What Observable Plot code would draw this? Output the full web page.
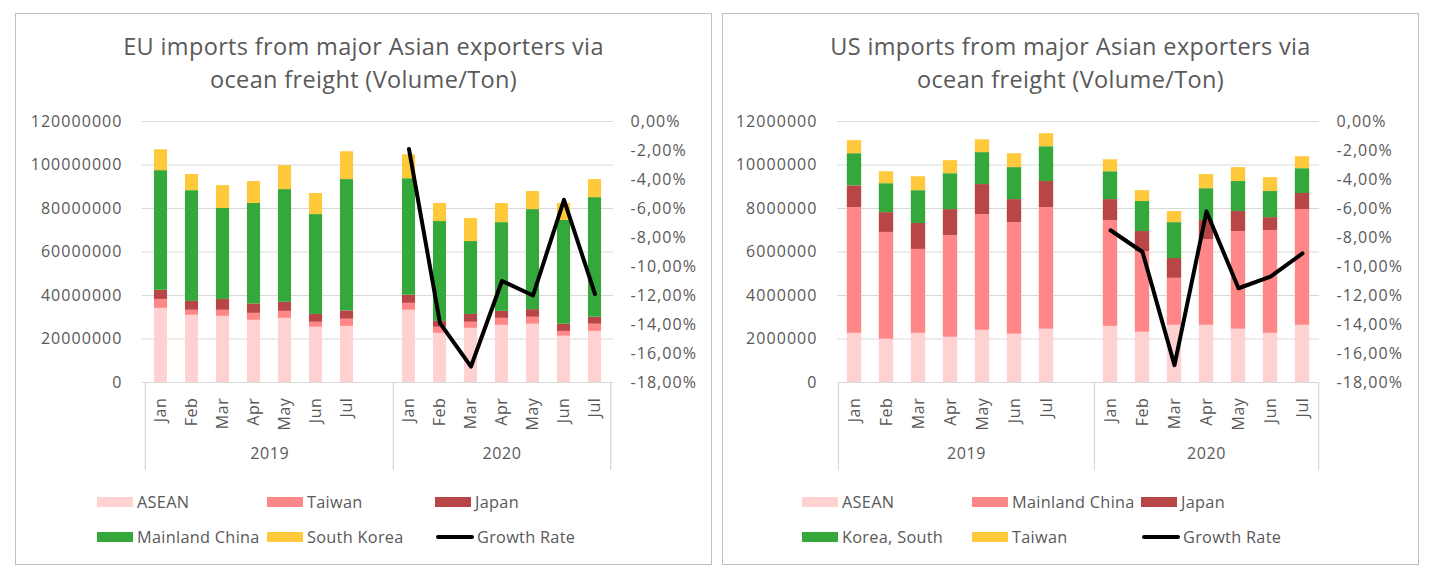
<!DOCTYPE html>
<html><head><meta charset="utf-8">
<script src="https://cdn.jsdelivr.net/npm/d3@7"></script>
<script src="https://cdn.jsdelivr.net/npm/@observablehq/plot@0.6"></script>
<style>
body{margin:0;background:#fff;font-family:"Open Sans",sans-serif;color:#595959}
#page{position:relative;width:1432px;height:580px;overflow:hidden;background:#fff}
.panel{position:absolute;top:13px;width:697px;height:552px;border:1px solid #bfbfbf;box-sizing:border-box;background:#fff}
.title{position:absolute;left:0;right:0;top:16px;text-align:center;font-size:23.5px;letter-spacing:0.35px;line-height:33px;color:#595959}
.chart{position:absolute;left:0;top:91px}
.chart svg text{letter-spacing:0.6px}
.chart svg g[aria-label="y-axis tick label"] text{letter-spacing:1.05px}
.leg{position:absolute;height:20px;font-size:16.3px;letter-spacing:0.3px;line-height:20px;white-space:nowrap;color:#595959}
.leg .sw{position:absolute;left:0;top:5px;width:36px;height:10px}
.leg .ln{position:absolute;left:1px;top:8px;width:38px;height:4px;border-radius:2px;background:#000}
.leg .tx{position:absolute;left:40px;top:0}
</style>
</head><body>
<div id="page">
  <div class="panel" id="eu" style="left:15px"></div>
  <div class="panel" id="us" style="left:722px"></div>
</div>
<script>
// ---- shared categories ----
const months = ["Jan","Feb","Mar","Apr","May","Jun","Jul"];
const years = ["2019","2020"];
const gapKey = "—";

// ---- EU data (tons), Jan–Jul 2019 then Jan–Jul 2020 ----
const euNames = ["ASEAN","Taiwan","Japan","Mainland China","South Korea"];
const euASEAN  = [34100000,30900000,30400000,28600000,29500000,25400000,25800000, 33200000,22600000,24900000,26300000,26800000,21300000,23500000];
const euTaiwan = [4100000,2300000,2800000,3200000,3200000,2300000,3300000, 3200000,2800000,2800000,3200000,3200000,2200000,3300000];
const euJapan  = [4200000,4100000,5000000,4300000,4200000,3600000,3800000, 3700000,2700000,3600000,3200000,3500000,3300000,3200000];
const euChina  = [55000000,50900000,41800000,46200000,51800000,45900000,60400000, 53600000,45900000,33500000,40800000,46000000,47700000,55000000];
const euKorea  = [9600000,7400000,10500000,10100000,11000000,9700000,12800000, 11000000,8300000,10600000,8800000,8300000,7800000,8300000];
const euGrowth = [-1.9,-13.9,-16.9,-11.0,-12.0,-5.4,-11.9]; // % 2020 vs 2019
const euTicks = [0,20000000,40000000,60000000,80000000,100000000,120000000];

// ---- US data (tons) ----
const usNames = ["ASEAN","Mainland China","Japan","Korea, South","Taiwan"];
const usASEAN  = [2260000,1990000,2260000,2080000,2400000,2220000,2450000, 2580000,2310000,2630000,2630000,2450000,2260000,2630000];
const usChina  = [5780000,4910000,3860000,4680000,5320000,5130000,5590000, 4870000,3710000,2160000,3940000,4490000,4730000,5320000];
const usJapan  = [1000000,910000,1190000,1190000,1380000,1060000,1200000, 960000,920000,910000,880000,920000,590000,740000];
const usKorea  = [1480000,1330000,1510000,1650000,1470000,1470000,1600000, 1280000,1380000,1650000,1460000,1380000,1200000,1140000];
const usTaiwan = [600000,550000,640000,600000,590000,640000,600000, 550000,500000,510000,650000,640000,640000,550000];
const usGrowth = [-7.5,-9.0,-16.8,-6.2,-11.5,-10.7,-9.1];
const usTicks = [0,2000000,4000000,6000000,8000000,10000000,12000000];

const pctTicks = [0,-2,-4,-6,-8,-10,-12,-14,-16,-18];
const pctMin = -18;

const colors = ["#ffd1d1","#ff8787","#b94646","#35a83b","#ffc93c"];
const colorsUS = ["#ffd1d1","#ff8787","#b94646","#35a83b","#ffc93c"];

const keys = [...months.map(m => years[0] + " " + m), gapKey, ...months.map(m => years[1] + " " + m)];
const dataKeys = keys.filter(k => k !== gapKey);

function pctFmt(v){ return v.toFixed(2).replace(".", ",") + "%"; }

function drawPanel(el, cfg){
  const W = 695, H = 365, mt = 16, mb = 88;
  const plotW = W - cfg.ml - cfg.mr;
  const plotH = H - mt - mb;
  const step = plotW / keys.length;
  const inset = (step - cfg.barW) / 2;
  const yMax = cfg.ticks[cfg.ticks.length - 1];
  const toY = g => (g - pctMin) / (0 - pctMin) * yMax;
  const fromY = v => v / yMax * (0 - pctMin) + pctMin;

  const rows = [];
  cfg.series.forEach((vals, s) => vals.forEach((v, i) => rows.push({key: dataKeys[i], series: cfg.names[s], value: v})));
  const growthRows = cfg.growth.map((g, i) => ({key: years[1] + " " + months[i], g}));

  const title = document.createElement("div");
  title.className = "title";
  title.innerHTML = cfg.title.join("<br>");
  el.appendChild(title);

  const plot = Plot.plot({
    width: W, height: H, marginLeft: cfg.ml, marginRight: cfg.mr, marginTop: mt, marginBottom: mb,
    style: {fontFamily: "'Open Sans', sans-serif", fontSize: "16px", color: "#595959", background: "transparent", overflow: "visible"},
    x: {type: "band", domain: keys, padding: 0, axis: null},
    y: {domain: [0, yMax], axis: null},
    color: {domain: cfg.names, range: cfg.colors},
    marks: [
      Plot.gridY(cfg.ticks, {stroke: "#d9d9d9", strokeOpacity: 1, strokeWidth: 1}),
      Plot.axisY(cfg.ticks, {tickSize: 0, tickPadding: 20, tickFormat: d => String(d), label: null, fill: "#595959"}),
      Plot.axisY(pctTicks.map(toY), {anchor: "right", tickSize: 0, tickPadding: 17, tickFormat: v => pctFmt(fromY(v)), label: null, fill: "#595959"}),
      Plot.barY(rows, {x: "key", y: "value", fill: "series", order: cfg.names, insetLeft: inset, insetRight: inset}),
      Plot.line(growthRows, {x: "key", y: d => toY(d.g), stroke: "#000", strokeWidth: 4, strokeLinejoin: "round", strokeLinecap: "round"}),
      Plot.ruleX([keys[0], keys[8]], {dx: -step/2, stroke: "#d9d9d9", strokeWidth: 1.3, insetTop: plotH, insetBottom: -mb}),
      Plot.ruleX([keys[keys.length - 1]], {dx: step/2, stroke: "#d9d9d9", strokeWidth: 1.3, insetTop: plotH, insetBottom: -mb}),
      Plot.text(dataKeys, {x: d => d, text: d => d.split(" ")[1], frameAnchor: "bottom", rotate: -90, textAnchor: "end", lineAnchor: "middle", dy: 15, fill: "#595959"}),
      Plot.text([years[0]], {x: () => years[0] + " Apr", text: d => d, frameAnchor: "bottom", dy: 76, dx: step/2, fill: "#595959"}),
      Plot.text([years[1]], {x: () => years[1] + " Apr", text: d => d, frameAnchor: "bottom", dy: 76, fill: "#595959"})
    ]
  });
  const wrap = document.createElement("div");
  wrap.className = "chart";
  wrap.appendChild(plot);
  el.appendChild(wrap);

  // legend
  const items = cfg.names.map((n, i) => ({name: n, color: cfg.colors[i]})).concat([{name: "Growth Rate", line: true}]);
  items.forEach((it, i) => {
    const col = i % 3, row = Math.floor(i / 3);
    const d = document.createElement("div");
    d.className = "leg";
    d.style.left = cfg.legX[col] + "px";
    d.style.top = (row === 0 ? 478 : 513) + "px";
    d.innerHTML = (it.line ? '<span class="ln"></span>' : '<span class="sw" style="background:' + it.color + '"></span>') +
      '<span class="tx"' + (it.line ? ' style="left:42px"' : '') + '>' + it.name + '</span>';
    el.appendChild(d);
  });
}

drawPanel(document.getElementById("eu"), {
  title: ["EU imports from major Asian exporters via", "ocean freight (Volume/Ton)"],
  names: euNames, colors: colors,
  series: [euASEAN, euTaiwan, euJapan, euChina, euKorea],
  growth: euGrowth, ticks: euTicks, ml: 126, mr: 98, barW: 13.5,
  legX: [81, 251, 419]
});
drawPanel(document.getElementById("us"), {
  title: ["US imports from major Asian exporters via", "ocean freight (Volume/Ton)"],
  names: usNames, colors: colorsUS,
  series: [usASEAN, usChina, usJapan, usKorea, usTaiwan],
  growth: usGrowth, ticks: usTicks, ml: 114, mr: 99, barW: 14.5,
  legX: [79, 249, 418]
});
</script>
</body></html>
